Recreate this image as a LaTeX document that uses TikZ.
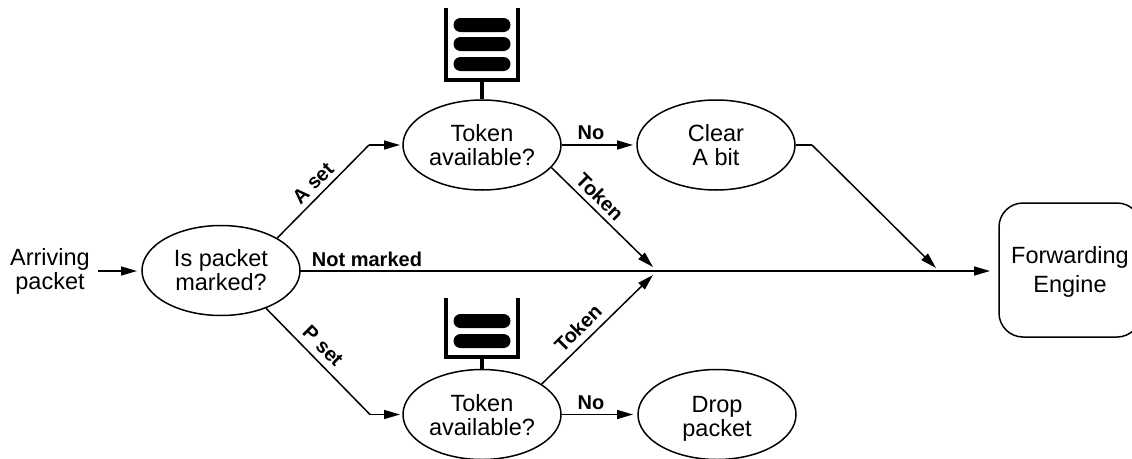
\documentclass[tikz,border=0pt]{standalone}
\usepackage{fontspec}
\setmainfont{Liberation Sans}
\usetikzlibrary{shapes.geometric,arrows.meta}
\newcommand{\lowered}[2]{\raisebox{-#1pt}[18pt][5pt]{#2}}
\tikzset{
  decision/.style={draw=black,line width=1.5pt,ellipse,minimum width=158pt,minimum height=90pt,inner sep=0pt,align=center,font=\fontsize{23.5}{24}\selectfont},
  engine/.style={draw=black,line width=1.5pt,rounded corners=24pt,minimum width=142pt,minimum height=134pt,inner sep=0pt,align=center,font=\fontsize{23.5}{29}\selectfont},
  plain/.style={inner sep=0pt,align=center,font=\fontsize{23.5}{24}\selectfont},
  lbl/.style={inner sep=0pt,font=\fontsize{20}{22}\selectfont\bfseries},
  flow/.style={line width=1.5pt,-{Triangle[length=16pt,width=9pt]}},
  seg/.style={line width=1.5pt},
  pill/.style={fill=black,rounded corners=7pt,minimum width=57pt,minimum height=14pt,inner sep=0pt},
  wall/.style={line width=4pt},
  stem/.style={line width=4pt}
}
\begin{document}
\begin{tikzpicture}[x=1pt,y=-1pt]
\useasboundingbox (0,0) rectangle (1132,458);
% nodes
\node[plain] (arr) at (50,271) {\lowered{0}{Arriving}\\\lowered{0}{packet}};
\node[decision] (mark) at (221,270.5) {\lowered{1.7}{Is packet}\\\lowered{1.7}{marked?}};
\node[decision] (ta) at (482,145) {\lowered{2.2}{Token}\\\lowered{2.2}{available?}};
\node[decision] (tb) at (482,414.5) {\lowered{2.2}{Token}\\\lowered{2.2}{available?}};
\node[decision] (clr) at (716,145) {\lowered{2.2}{Clear}\\\lowered{2.2}{A bit}};
\node[decision] (drop) at (717,414.5) {\lowered{3}{Drop}\\\lowered{3}{packet}};
\node[engine] (fwd) at (1070,270) {\lowered{1}{Forwarding}\\\lowered{1}{Engine}};
% free coordinates
\coordinate (kneeA) at (369,145);
\coordinate (kneeP) at (370,414.5);
\coordinate (kneeC) at (812,145);
\coordinate (joinU) at (653,267);
\coordinate (joinL) at (653,275);
\coordinate (joinR) at (936,268);
\coordinate (fwdIn) at (990,271);
\coordinate (markOut) at (300,271);
\coordinate (arrOut) at (98,271);
\coordinate (markIn) at (137,271);
\coordinate (kneeAEnd) at (400,145);
\coordinate (kneePEnd) at (400,414.5);
\coordinate (noAEnd) at (633,145);
\coordinate (noBEnd) at (633,414.5);
% connectors
\draw[flow] (arrOut) -- (markIn);
\draw[seg] (mark.30) -- (kneeA);
\draw[flow] (kneeA) -- (kneeAEnd);
\draw[seg] (mark.-40) -- (kneeP);
\draw[flow] (kneeP) -- (kneePEnd);
\draw[flow] (markOut) -- (fwdIn);
\draw[flow] (ta.east) -- (noAEnd);
\draw[flow] (tb.east) -- (noBEnd);
\draw[flow] (ta.-18) -- (joinU);
\draw[flow] (tb.27) -- (joinL);
\draw[seg] (clr.east) -- (kneeC);
\draw[flow] (kneeC) -- (joinR);
% labels
\node[lbl,rotate=45] (la) at (313,183) {A set};
\node[lbl,rotate=-45] (lp) at (323,346) {P set};
\node[lbl,rotate=-45] (lta) at (600,197) {Token};
\node[lbl,rotate=45] (ltb) at (578,328) {Token};
\node[lbl] (lnm) at (367,259) {Not marked};
\node[lbl] (lna) at (591,133) {No};
\node[lbl] (lnb) at (591,403) {No};
% token buckets
\coordinate (buA) at (482,80);
\draw[wall,line cap=butt] (446,8) -- (446,80) -- (518,80) -- (518,8);
\draw[stem] (buA) -- (ta.north);
\node[pill] (pa1) at (482,25) {};
\node[pill] (pa2) at (482,44) {};
\node[pill] (pa3) at (482,64) {};
\coordinate (buB) at (482,357);
\draw[wall,line cap=butt] (446,298) -- (446,357) -- (518,357) -- (518,298);
\draw[stem] (buB) -- (tb.north);
\node[pill] (pb1) at (482,321) {};
\node[pill] (pb2) at (482,341) {};
\end{tikzpicture}
\end{document}
